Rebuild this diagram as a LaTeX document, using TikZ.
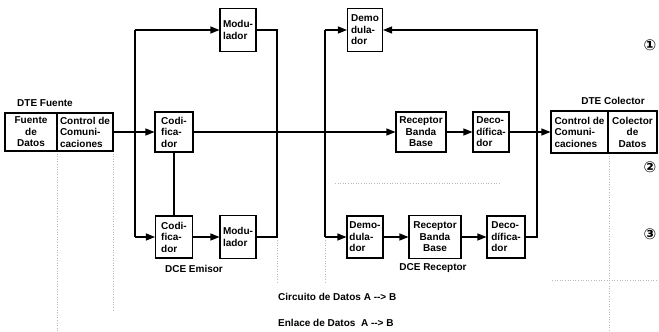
\documentclass[tikz,border=0pt]{standalone}
\usepackage{fontspec}
\setmainfont{Liberation Sans}
\newfontfamily\numfont{DejaVu Sans}
\usetikzlibrary{arrows.meta}

\begin{document}
\begin{tikzpicture}[x=1pt, y=-1pt,
 box/.style={draw, line width=1.1pt, align=left, inner sep=1.5pt,
 font=\fontsize{10}{11.5}\selectfont\bfseries},
 cbox/.style={box, align=center},
 lbl/.style={font=\fontsize{10}{12}\selectfont\bfseries, inner sep=0pt},
 num/.style={font=\numfont\bfseries\fontsize{15}{15}\selectfont, inner sep=0pt},
 ln/.style={line width=1.1pt},
 ar/.style={ln, -{Triangle[length=9pt, width=7pt]}},
 aux/.style={gray!55, dotted, line width=0.6pt},
]
 \useasboundingbox (0,0) rectangle (659,332);
 % faint guide lines
 \draw[aux] (57,151) -- (57,332);
 \draw[aux] (113,151) -- (113,310);
 \draw[aux] (609,153) -- (609,332);
 \draw[aux] (277,240) -- (277,282);
 \draw[aux] (325,240) -- (325,282);
 \draw[aux] (552,280) -- (659,280);
 \draw[aux] (335,183) -- (500,183);

 % DTE Fuente
 \node[lbl] (dteF) at (45,103) {DTE Fuente};
 \node[cbox, minimum width=52pt, minimum height=38pt] (fuente) at (31,132) {Fuente\\de\\Datos};
 \node[box, minimum width=56pt, minimum height=38pt] (ctrlE) at (85,132) {Control de\\Comuni-\\caciones};

 % DCE Emisor
 \node[box, minimum width=38pt, minimum height=40pt] (codA) at (174,132) {Codi-\\fica-\\dor};
 \node[box, minimum width=36pt, minimum height=43pt] (modA) at (238,30) {Modu-\\lador};
 \node[box, minimum width=37pt, minimum height=42pt] (codB) at (174,237) {Codi-\\fica-\\dor};
 \node[box, minimum width=36pt, minimum height=43pt] (modB) at (238,237) {Modu-\\lador};
 \node[lbl] (dceE) at (194,269) {DCE Emisor};

 % DCE Receptor
 \node[box, minimum width=35pt, minimum height=43pt] (demA) at (365,30) {Demo\\dula-\\dor};
 \node[cbox, minimum width=50pt, minimum height=40pt] (rbbA) at (421,132) {Receptor\\Banda\\Base};
 \node[box, minimum width=36pt, minimum height=40pt] (decA) at (491,132) {Deco-\\dífica-\\dor};
 \node[box, minimum width=36pt, minimum height=42pt] (demB) at (365,237) {Demo-\\dula-\\dor};
 \node[cbox, minimum width=52pt, minimum height=43pt] (rbbB) at (435,237) {Receptor\\Banda\\Base};
 \node[box, minimum width=38pt, minimum height=42pt] (decB) at (506,237) {Deco-\\dífica-\\dor};
 \node[lbl] (dceR) at (433,268) {DCE Receptor};

 % DTE Colector
 \node[lbl] (dteC) at (613,101) {DTE Colector};
 \node[box, minimum width=57pt, minimum height=42pt] (ctrlR) at (579.5,132) {Control de\\Comuni-\\caciones};
 \node[cbox, minimum width=49pt, minimum height=42pt] (colec) at (632.5,132) {Colector\\de\\Datos};

 \node[num] (n1) at (650,45) {①};
 \node[num] (n2) at (650,167) {②};
 \node[num] (n3) at (650,234) {③};

 \node[lbl, anchor=west] (circ) at (278,297) {Circuito de Datos A -{}-> B};
 \node[lbl, anchor=west] (enl) at (278,323) {Enlace de Datos\ \ A -{}-> B};

 \coordinate (sTop) at (135,30);
 \coordinate (sBot) at (135,237);
 \coordinate (mTop) at (277,30);
 \coordinate (mBot) at (277,237);
 \coordinate (rTop) at (325,30);
 \coordinate (rBot) at (325,237);
 \coordinate (kTop) at (537,30);
 \coordinate (kBot) at (537,237);

 % emisor
 \draw[ln] (sTop) -- (sBot);
 \draw[ar] (sTop) -- (modA);
 \draw[ar] (sBot) -- (codB);
 \draw[ar] (ctrlE) -- (codA);
 \draw[ln] (codA) -- (codB);
 \draw[ar] (codB) -- (modB);
 \draw[ln] (modA) -- (mTop) -- (mBot) -- (modB);
 \draw[ar] (codA) -- (rbbA);
 % receptor
 \draw[ln] (rTop) -- (rBot);
 \draw[ar] (rTop) -- (demA);
 \draw[ar] (rBot) -- (demB);
 \draw[ar] (demB) -- (rbbB);
 \draw[ar] (rbbB) -- (decB);
 \draw[ar] (rbbA) -- (decA);
 \draw[ar] (decA) -- (ctrlR);
 \draw[ar] (decB) -- (kBot) -- (kTop) -- (demA);
\end{tikzpicture}
\end{document}
